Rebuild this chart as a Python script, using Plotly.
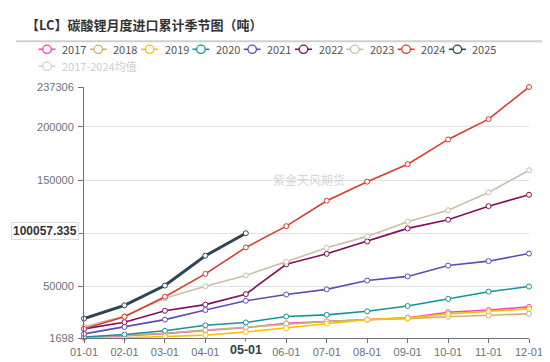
import numpy as np
import plotly.graph_objects as go

months = ["01-01", "02-01", "03-01", "04-01", "05-01", "06-01",
          "07-01", "08-01", "09-01", "10-01", "11-01", "12-01"]

y2017 = [1968, 4024, 5814, 8677, 11541, 15388, 17178, 18968, 20757, 25858, 27916, 30868]
y2018 = [2235, 4382, 6172, 9125, 11809, 15120, 17178, 18968, 19862, 21652, 22815, 24336]
y2019 = [1698, 1966, 3130, 4382, 7335, 10914, 15120, 18968, 20310, 24336, 26752, 29079]
y2020 = [2593, 4919, 8498, 13599, 16283, 21920, 23442, 26752, 31763, 38385, 45185, 50017]
y2021 = [5546, 12078, 18968, 27916, 36595, 42501, 47333, 55654, 59502, 69703, 73819, 80977]
y2022 = [10288, 16552, 27289, 33016, 42859, 70866, 80709, 92341, 104600, 112743, 125449, 136186]
y2023 = [12078, 22278, 38922, 50286, 60397, 73282, 86346, 97084, 110864, 121601, 138244, 159183]
y2024 = [10288, 21652, 40443, 61918, 86704, 106658, 130549, 148445, 164820, 188085, 207144, 237306]
y2025 = [19862, 32390, 50912, 78919, 100057.335]

series_names = ["2017", "2018", "2019", "2020", "2021", "2022", "2023", "2024", "2025"]
series_vals = [y2017, y2018, y2019, y2020, y2021, y2022, y2023, y2024, y2025]
colors = ["#ff3fc8", "#c8b27c", "#ffc000", "#14939a", "#5a4db5",
          "#860b5e", "#cbbfa9", "#dd3a2e", "#2f4554"]
avg_name = "2017-2024均值"
avg_vals = list(np.mean(np.array(series_vals[:8]), axis=0))

ytick_vals = [1698, 50000, 100000, 150000, 200000, 237306]
ytick_text = ["1698", "50000", "", "150000", "200000", "237306"]
pointer_value = 100057.335
pointer_month = "05-01"

# plot area in pixels
L, R, T, B = 76, 521, 79, 342
W, H = 550, 362


def px(x):
    return (x - L) / (R - L)


def py(y):
    return (B - y) / (B - T)


fig = go.Figure()

fig.add_trace(go.Scatter(
    x=months, y=avg_vals, name=avg_name, mode="lines+markers",
    visible="legendonly", line=dict(color="#cccccc", width=1.5),
    marker=dict(symbol="circle", size=5, color="white", line=dict(color="#cccccc", width=1)),
    cliponaxis=False, showlegend=False))

for name, vals, col in zip(series_names, series_vals, colors):
    w = 3 if name == "2025" else 1.6
    fig.add_trace(go.Scatter(
        x=months[:len(vals)], y=vals, name=name, mode="lines+markers",
        line=dict(color=col, width=w),
        marker=dict(symbol="circle", size=5, color="white", line=dict(color=col, width=1)),
        cliponaxis=False, showlegend=False))

shapes = []
annotations = []

# custom legend
legend_items = list(zip(series_names, colors)) + [(avg_name, "#d0d0d0")]
for i, (name, col) in enumerate(legend_items):
    if i < 9:
        cx = 39 + i * 51.3
        cy = 39.5
    else:
        cx = 39
        cy = 57.3
    shapes.append(dict(type="line", xref="paper", yref="paper",
                       x0=px(cx - 8.5), x1=px(cx + 8.5), y0=py(cy), y1=py(cy),
                       line=dict(color=col, width=1.6)))
    shapes.append(dict(type="circle", xref="paper", yref="paper",
                       x0=px(cx - 4.3), x1=px(cx + 4.3), y0=py(cy - 4.3), y1=py(cy + 4.3),
                       fillcolor="white", line=dict(color=col, width=1.3)))
    annotations.append(dict(text=name, xref="paper", yref="paper", x=px(cx + 13), y=py(cy),
                            xanchor="left", yanchor="middle", showarrow=False,
                            font=dict(size=11, color="#cccccc" if i == 9 else "#555555",
                                      family="Noto Sans CJK SC, Liberation Sans, sans-serif")))

# separator line under title
shapes.append(dict(type="line", xref="paper", yref="paper",
                   x0=px(8), x1=px(544), y0=py(31), y1=py(31),
                   line=dict(color="#d0d0d0", width=2)))

# watermark
annotations.append(dict(text="紫金天风期货", xref="paper", yref="paper", x=px(301), y=py(176),
                        showarrow=False, font=dict(size=12, color="rgba(160,160,160,0.45)",
                                                   family="Noto Sans CJK SC")))

# axis pointer labels
annotations.append(dict(text="<b>%s</b>" % ("%.3f" % pointer_value), xref="paper", yref="y",
                        x=0, y=pointer_value, xanchor="right", yanchor="middle", xshift=-5, yshift=2,
                        showarrow=False, bgcolor="white", bordercolor="#dddddd", borderwidth=1,
                        borderpad=1,
                        font=dict(size=12, color="#333333", family="Liberation Sans, Arial")))
annotations.append(dict(text="<b>%s</b>" % pointer_month, xref="x", yref="paper",
                        x=pointer_month, y=0, xanchor="center", yanchor="top", yshift=-3,
                        showarrow=False, bgcolor="white",
                        font=dict(size=12.5, color="#2d3e50", family="Liberation Sans, Arial")))

xtick_text = ["" if m == pointer_month else m for m in months]

fig.update_layout(
    width=W, height=H,
    margin=dict(l=L, r=W - R, t=T, b=H - B, pad=0),
    paper_bgcolor="white", plot_bgcolor="white",
    title=dict(text="<b>【LC】碳酸锂月度进口累计季节图（吨）</b>", xref="container", yref="container",
               x=18 / W, y=1 - 17.5 / H, xanchor="left", yanchor="middle",
               font=dict(size=13, color="#333333", family="Noto Sans CJK SC")),
    showlegend=False,
    shapes=shapes, annotations=annotations,
    xaxis=dict(type="category", categoryorder="array", categoryarray=months,
               range=[0, 11], tickmode="array", tickvals=months, ticktext=xtick_text,
               showline=True, linecolor="#6e7079", linewidth=1, ticks="outside", ticklen=4,
               tickcolor="#6e7079", showgrid=False, zeroline=False,
               tickfont=dict(size=11, color="#6e7079", family="Liberation Sans, Arial")),
    yaxis=dict(range=[1698, 237306], tickmode="array", tickvals=ytick_vals, ticktext=ytick_text,
               showline=True, linecolor="#6e7079", linewidth=1, ticks="outside", ticklen=5,
               tickcolor="#6e7079", showgrid=True, gridcolor="#e3e3e3", gridwidth=1,
               zeroline=False, ticklabelstandoff=2,
               tickfont=dict(size=11, color="#6e7079", family="Liberation Sans, Arial")),
)

fig.write_html("out.html")
